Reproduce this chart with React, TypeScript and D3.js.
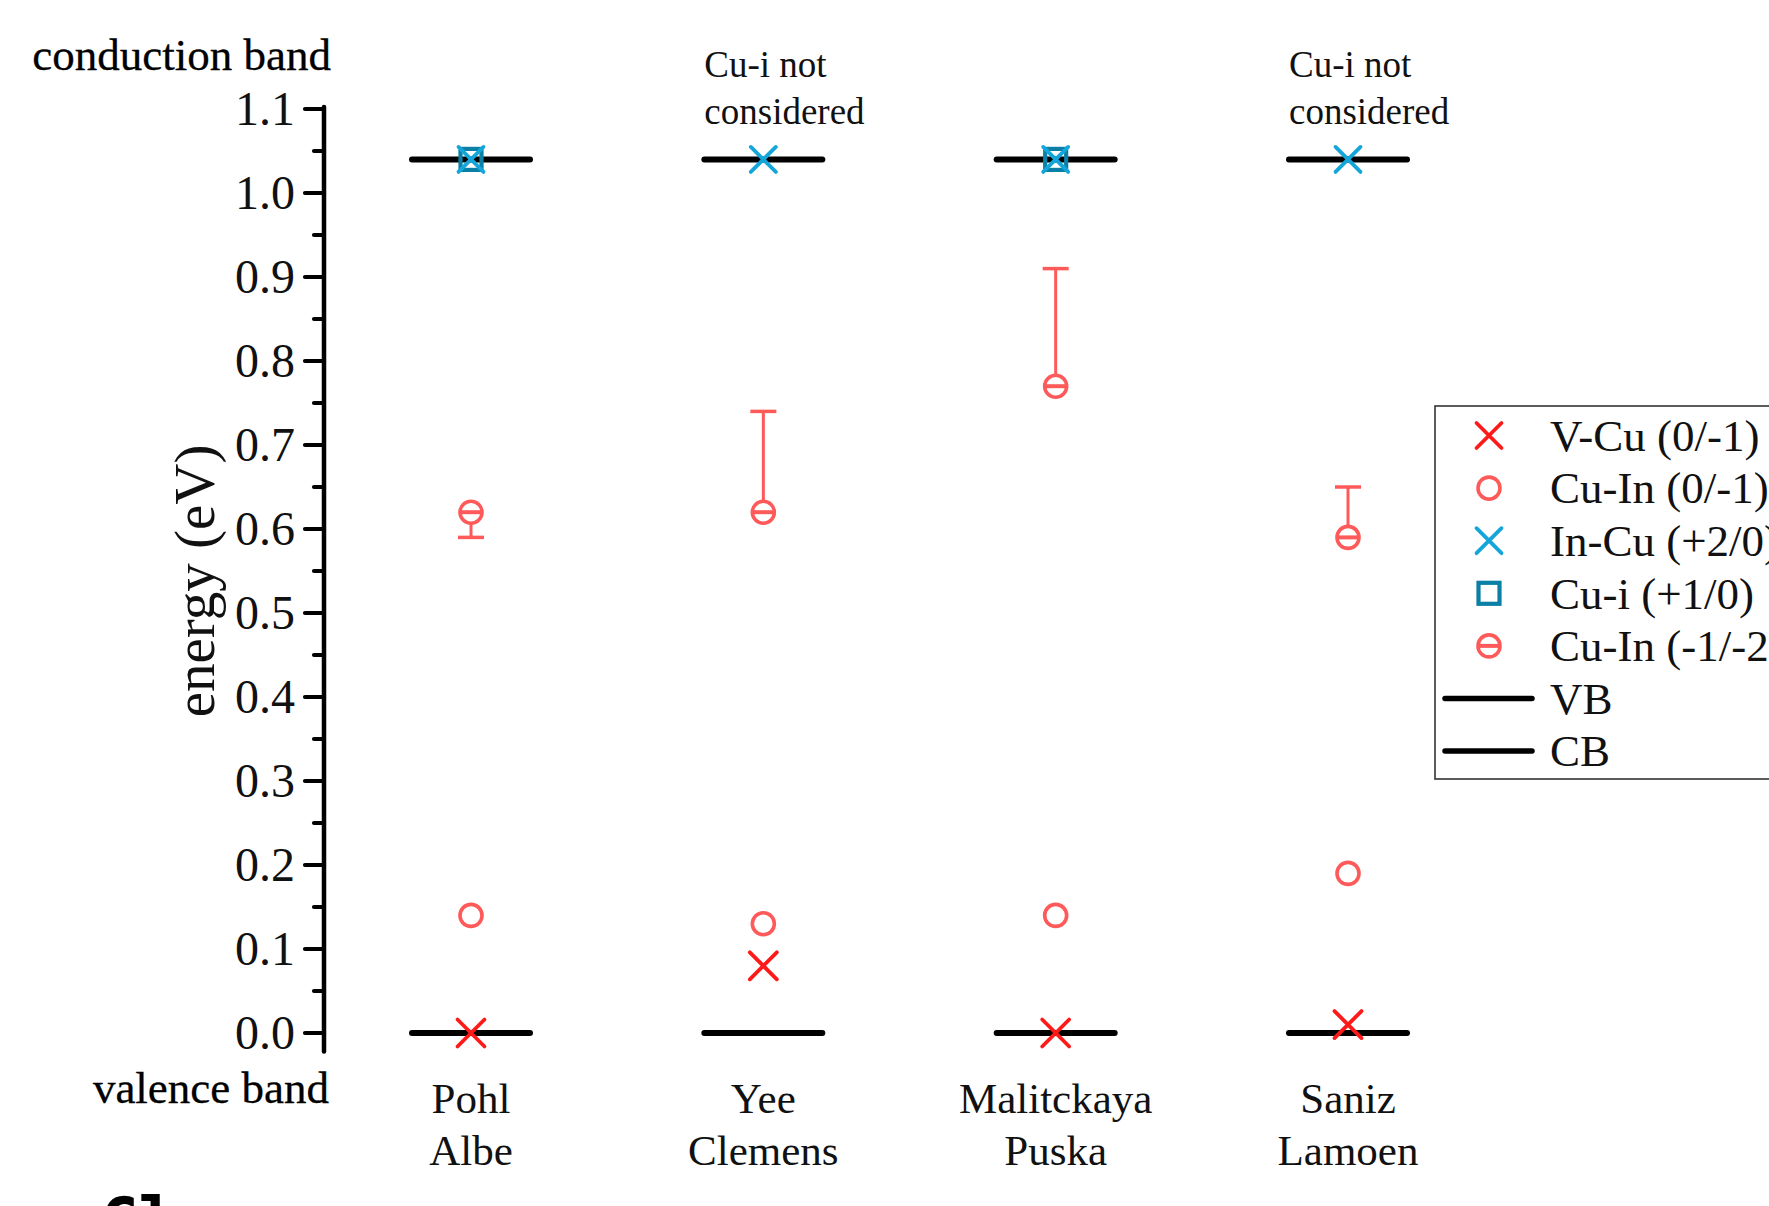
import React from "react";
import * as d3 from "d3";

// Studies compared (two-line labels)
const studies = ["Pohl", "Yee", "Malitckaya", "Saniz"];
const studiesLine2 = ["Albe", "Clemens", "Puska", "Lamoen"];

// Band edges (eV)
const vbLevel = [0, 0, 0, 0];
const cbLevel = [1.04, 1.04, 1.04, 1.04];

// Transition levels (eV); null = not considered
const vCu01 = [0, 0.08, 0, 0.01];
const cuIn01 = [0.14, 0.13, 0.14, 0.19];
const inCu20 = [1.04, 1.04, 1.04, 1.04];
const cuI10: (number | null)[] = [1.04, null, 1.04, null];
const cuIn12 = [0.62, 0.62, 0.77, 0.59];
const cuIn12RangeEnd = [0.59, 0.74, 0.91, 0.65];

const notConsidered = [false, true, false, true];

const yTicks = [0, 0.1, 0.2, 0.3, 0.4, 0.5, 0.6, 0.7, 0.8, 0.9, 1.0, 1.1];
const yMinorTicks = [0.05, 0.15, 0.25, 0.35, 0.45, 0.55, 0.65, 0.75, 0.85, 0.95, 1.05];

const legendItems = [
  { label: "V-Cu (0/-1)", kind: "xred" },
  { label: "Cu-In (0/-1)", kind: "circle" },
  { label: "In-Cu (+2/0)", kind: "xblue" },
  { label: "Cu-i (+1/0)", kind: "square" },
  { label: "Cu-In (-1/-2)", kind: "theta" },
  { label: "VB", kind: "line" },
  { label: "CB", kind: "line" },
];

const RED = "#ff1a1a";
const PINK = "#ff5a5a";
const CYAN = "#14a6da";
const TEAL = "#0b80a6";
const SERIF = "'Liberation Serif', 'Times New Roman', serif";

function XMark({ x, y, color, s = 13 }: { x: number; y: number; color: string; s?: number }) {
  return (
    <path
      d={`M${x - s},${y - s}L${x + s},${y + s}M${x - s},${y + s}L${x + s},${y - s}`}
      stroke={color}
      strokeWidth={3.8}
      strokeLinecap="round"
      fill="none"
    />
  );
}

function Circle({ x, y }: { x: number; y: number }) {
  return <circle cx={x} cy={y} r={11} fill="none" stroke={PINK} strokeWidth={3.6} />;
}

function Theta({ x, y }: { x: number; y: number }) {
  return (
    <g>
      <circle cx={x} cy={y} r={11} fill="#fff" stroke={PINK} strokeWidth={3.6} />
      <line x1={x - 10} x2={x + 10} y1={y} y2={y} stroke={PINK} strokeWidth={4} />
    </g>
  );
}

function Square({ x, y }: { x: number; y: number }) {
  return <rect x={x - 10.5} y={y - 10.5} width={21} height={21} fill="none" stroke={TEAL} strokeWidth={4.2} />;
}

export default function App() {
  const W = 1769;
  const H = 1206;

  const x = d3.scalePoint<string>().domain(studies).range([471, 1348]);
  const y = d3.scaleLinear().domain([0, 1.1]).range([1033, 109]);

  const axisX = 324;
  const halfBar = 59;

  return (
    <svg
      width={W}
      height={H}
      viewBox={`0 0 ${W} ${H}`}
      style={{ position: "absolute", left: 0, top: 0, background: "#fff" }}
    >
      <rect width={W} height={H} fill="#fff" />

      {/* y axis */}
      <line x1={axisX} x2={axisX} y1={y(1.1) - 2} y2={y(-0.022)} stroke="#000" strokeWidth={4.5} strokeLinecap="round" />
      {yTicks.map((t) => (
        <g key={`t${t}`}>
          <line x1={axisX - 19} x2={axisX} y1={y(t)} y2={y(t)} stroke="#000" strokeWidth={4.2} strokeLinecap="round" />
          <text
            x={295}
            y={y(t)}
            dy="0.34em"
            textAnchor="end"
            fontFamily={SERIF}
            fontSize={48}
            fill="#111"
          >
            {t.toFixed(1)}
          </text>
        </g>
      ))}
      {yMinorTicks.map((t) => (
        <line key={`m${t}`} x1={axisX - 10} x2={axisX} y1={y(t)} y2={y(t)} stroke="#000" strokeWidth={4.2} strokeLinecap="round" />
      ))}

      <text
        transform={`translate(214,${581}) rotate(-90)`}
        textAnchor="middle"
        fontFamily={SERIF}
        fontSize={57}
        fill="#111"
      >
        energy (eV)
      </text>

      <text x={331} y={70} textAnchor="end" fontFamily={SERIF} fontSize={45} fill="#000" stroke="#000" strokeWidth={0.3}>
        conduction band
      </text>
      <text x={329} y={1103} textAnchor="end" fontFamily={SERIF} fontSize={45} fill="#000" stroke="#000" strokeWidth={0.3}>
        valence band
      </text>

      {/* category labels */}
      {studies.map((s, i) => (
        <g key={`c${s}`}>
          <text x={x(s)!} y={1113} textAnchor="middle" fontFamily={SERIF} fontSize={43} fill="#111">
            {s}
          </text>
          <text x={x(s)!} y={1165} textAnchor="middle" fontFamily={SERIF} fontSize={43} fill="#111">
            {studiesLine2[i]}
          </text>
        </g>
      ))}

      {/* notes */}
      {studies.map((s, i) =>
        notConsidered[i] ? (
          <g key={`n${s}`}>
            <text x={x(s)! - halfBar} y={77} fontFamily={SERIF} fontSize={37} fill="#111">
              Cu-i not
            </text>
            <text x={x(s)! - halfBar} y={124} fontFamily={SERIF} fontSize={37} fill="#111">
              considered
            </text>
          </g>
        ) : null
      )}

      {/* band edges */}
      {studies.map((s, i) => (
        <g key={`b${s}`}>
          <line x1={x(s)! - halfBar} x2={x(s)! + halfBar} y1={y(vbLevel[i])} y2={y(vbLevel[i])} stroke="#000" strokeWidth={6} strokeLinecap="round" />
          <line x1={x(s)! - halfBar} x2={x(s)! + halfBar} y1={y(cbLevel[i])} y2={y(cbLevel[i])} stroke="#000" strokeWidth={6} strokeLinecap="round" />
        </g>
      ))}

      {/* V-Cu (0/-1) */}
      {studies.map((s, i) => (
        <XMark key={`v${s}`} x={x(s)!} y={y(vCu01[i])} color={RED} s={13.5} />
      ))}
      {/* Cu-In (0/-1) */}
      {studies.map((s, i) => (
        <Circle key={`ci${s}`} x={x(s)!} y={y(cuIn01[i])} />
      ))}
      {/* Cu-i (+1/0) */}
      {studies.map((s, i) =>
        cuI10[i] != null ? <Square key={`sq${s}`} x={x(s)!} y={y(cuI10[i] as number)} /> : null
      )}
      {/* In-Cu (+2/0) */}
      {studies.map((s, i) => (
        <XMark key={`ic${s}`} x={x(s)!} y={y(inCu20[i])} color={CYAN} s={12.5} />
      ))}
      {/* Cu-In (-1/-2) with range bar */}
      {studies.map((s, i) => {
        const cx = x(s)!;
        const y0 = y(cuIn12[i]);
        const y1 = y(cuIn12RangeEnd[i]);
        return (
          <g key={`th${s}`}>
            <line x1={cx} x2={cx} y1={y0} y2={y1} stroke={PINK} strokeWidth={3} />
            <line x1={cx - 13} x2={cx + 13} y1={y1} y2={y1} stroke={PINK} strokeWidth={3.5} />
            <Theta x={cx} y={y0} />
          </g>
        );
      })}

      {/* legend */}
      <rect x={1435} y={406} width={400} height={373} fill="#fff" stroke="#333" strokeWidth={1.6} />
      {legendItems.map((it, i) => {
        const ly = 435.5 + i * 52.6;
        const mx = 1489;
        let mark: React.ReactNode = null;
        if (it.kind === "xred") mark = <XMark x={mx} y={ly} color={RED} s={12.5} />;
        else if (it.kind === "xblue") mark = <XMark x={mx} y={ly} color={CYAN} s={12.5} />;
        else if (it.kind === "circle") mark = <Circle x={mx} y={ly} />;
        else if (it.kind === "square") mark = <Square x={mx} y={ly} />;
        else if (it.kind === "theta") mark = <Theta x={mx} y={ly} />;
        else mark = <line x1={1445} x2={1532} y1={ly} y2={ly} stroke="#000" strokeWidth={5.5} strokeLinecap="round" />;
        return (
          <g key={it.label}>
            {mark}
            <text x={1550} y={ly} dy="0.34em" fontFamily={SERIF} fontSize={45} fill="#111">
              {it.label}
            </text>
          </g>
        );
      })}

      <text x={100} y={1243} fontFamily="'DejaVu Sans Mono', monospace" fontWeight="bold" fontSize={64} fill="#000">
        Cl
      </text>
    </svg>
  );
}
